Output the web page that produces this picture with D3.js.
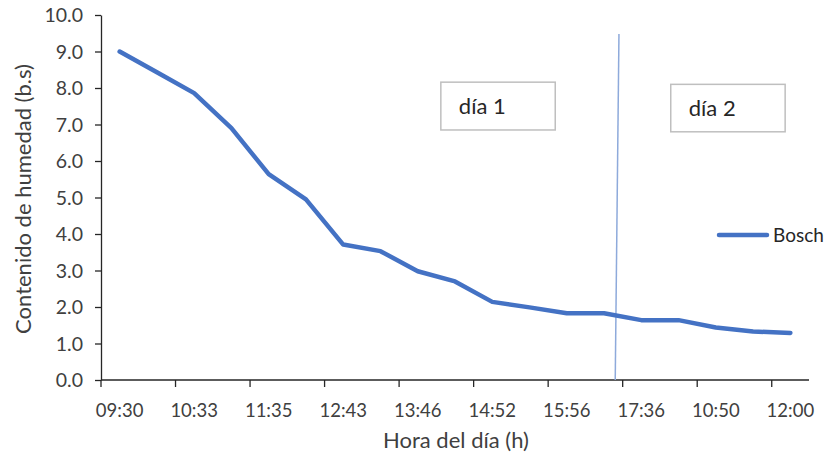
<!DOCTYPE html>
<html>
<head>
<meta charset="utf-8">
<script src="https://cdn.jsdelivr.net/npm/d3@7"></script>
<style>
  html, body { margin: 0; padding: 0; background: #fff; }
  svg { display: block; font-family: Lato, "Open Sans", sans-serif; }
</style>
</head>
<body>
<svg id="chart" width="825" height="460"></svg>
<script>
// ---- data ----
const tickLabels = ["09:30", "10:33", "11:35", "12:43", "13:46", "14:52", "15:56", "17:36", "10:50", "12:00"];
const seriesName = "Bosch";
const values = [9.0, 8.43, 7.86, 6.90, 5.64, 4.95, 3.71, 3.53, 2.98, 2.70, 2.14, 1.99, 1.83, 1.83, 1.64, 1.64, 1.44, 1.33, 1.29];
const yTicks = [0, 1, 2, 3, 4, 5, 6, 7, 8, 9, 10];
const dayLabels = ["día 1", "día 2"];

// ---- layout ----
const svg = d3.select("#chart");
const plotLeft = 101, plotRight = 809, plotTop = 15, plotBottom = 380;
const textColor = "#404040";
const fontSize = 18.5;
const titleSize = 22;

const x = d3.scaleBand().domain(values.map((d, i) => i)).range([plotLeft, plotRight]).paddingInner(0).paddingOuter(0);
const y = d3.scaleLinear().domain([0, 10]).range([plotBottom, plotTop]);
const cx = i => x(i) + x.bandwidth() / 2;
// continuous category coordinate -> pixel
const xc = v => x(0) + x.bandwidth() * (v + 0.5);

// Y axis
const yAxis = svg.append("g").attr("transform", `translate(${plotLeft},0)`)
  .call(d3.axisLeft(y).tickValues(yTicks).tickSize(6).tickSizeOuter(0).tickFormat(d3.format(".1f")));
yAxis.select(".domain").attr("stroke", "#262626").attr("stroke-width", 1.3);
yAxis.selectAll(".tick line").attr("stroke", "#262626").attr("stroke-width", 1.3);
yAxis.selectAll(".tick text").attr("fill", textColor).attr("font-size", 19.5)
  .attr("font-family", "Lato, sans-serif").attr("x", -18).attr("dy", "0.35em");

// X axis: ticks at every second category boundary, labels at every second category center
const xg = svg.append("g").attr("transform", `translate(0,${plotBottom})`);
xg.append("line").attr("x1", plotLeft).attr("x2", plotRight).attr("y1", 0).attr("y2", 0)
  .attr("stroke", "#262626").attr("stroke-width", 1.3);
const tickIdx = values.map((d, i) => i).filter(i => i % 2 === 0);
xg.selectAll("line.tk").data(tickIdx).join("line").attr("class", "tk")
  .attr("x1", i => x(i)).attr("x2", i => x(i)).attr("y1", 0).attr("y2", 7)
  .attr("stroke", "#262626").attr("stroke-width", 1.3);
xg.selectAll("text.lbl").data(tickIdx).join("text").attr("class", "lbl")
  .attr("x", i => cx(i)).attr("y", 37).attr("text-anchor", "middle")
  .attr("fill", textColor).attr("font-size", fontSize)
  .text(i => tickLabels[i / 2]);

// Axis titles
svg.append("text").attr("x", 456).attr("y", 448).attr("text-anchor", "middle")
  .attr("fill", textColor).attr("font-size", titleSize).text("Hora del día (h)");
svg.append("text").attr("transform", "translate(31,199) rotate(-90)")
  .attr("text-anchor", "middle").attr("fill", textColor).attr("font-size", titleSize)
  .text("Contenido de humedad (b.s)");

// Divider line between days
svg.append("line")
  .attr("x1", xc(13.30)).attr("y1", y(0))
  .attr("x2", xc(13.40)).attr("y2", y(9.48))
  .attr("stroke", "#8eaadb").attr("stroke-width", 1.5);

// Day boxes
const boxes = [
  { label: dayLabels[0], x0: 8.62, x1: 11.69, y0: 8.16, y1: 6.85 },
  { label: dayLabels[1], x0: 14.79, x1: 17.86, y0: 8.10, y1: 6.80 }
];
boxes.forEach(b => {
  svg.append("rect").attr("x", xc(b.x0)).attr("y", y(b.y0))
    .attr("width", xc(b.x1) - xc(b.x0)).attr("height", y(b.y1) - y(b.y0))
    .attr("fill", "#fff").attr("stroke", "#bfbfbf").attr("stroke-width", 1.5);
  svg.append("text").attr("x", xc(b.x0) + 18).attr("y", (y(b.y0) + y(b.y1)) / 2 + 8)
    .attr("fill", "#262626").attr("font-size", 22).text(b.label);
});

// Series line
const line = d3.line().x((d, i) => cx(i)).y(d => y(d));
svg.append("path").datum(values).attr("d", line)
  .attr("fill", "none").attr("stroke", "#4472c4").attr("stroke-width", 4.5)
  .attr("stroke-linejoin", "round").attr("stroke-linecap", "round");

// Legend
const lg = svg.append("g").attr("transform", "translate(719,235)");
lg.append("line").attr("x1", 0).attr("x2", 48).attr("y1", 0).attr("y2", 0)
  .attr("stroke", "#4472c4").attr("stroke-width", 4.5).attr("stroke-linecap", "round");
lg.append("text").attr("x", 54).attr("y", 7).attr("fill", "#262626").attr("font-size", 19).text(seriesName);
</script>
</body>
</html>
